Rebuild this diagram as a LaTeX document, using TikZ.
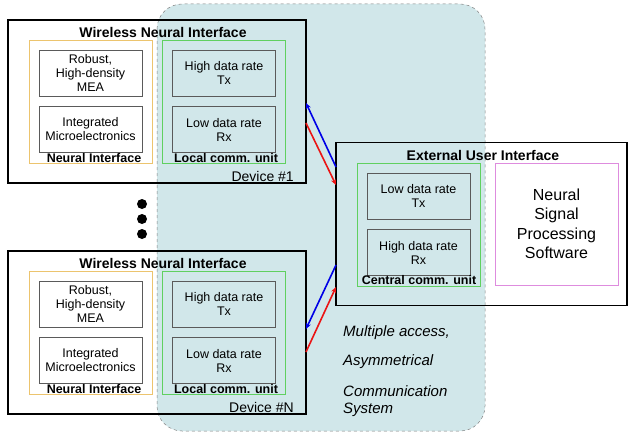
\documentclass[tikz,border=0pt]{standalone}
\usepackage{fontspec}
\setmainfont{Liberation Sans}
\usetikzlibrary{arrows.meta}
\definecolor{tealbg}{RGB}{209,231,234}
\definecolor{orangeb}{RGB}{236,196,110}
\definecolor{greenb}{RGB}{96,208,96}
\definecolor{pinkb}{RGB}{222,140,222}
\definecolor{boxgray}{RGB}{90,90,90}
\definecolor{myblue}{RGB}{0,0,230}
\definecolor{myred}{RGB}{235,20,20}
\begin{document}
\begin{tikzpicture}[x=1pt,y=-1pt,
  devbox/.style={draw=black, line width=1.8pt, minimum width=298pt, minimum height=163pt, inner sep=0pt},
  grpbox/.style={draw, line width=0.6pt, minimum width=123pt, minimum height=123pt, inner sep=0pt},
  inbox/.style={draw=boxgray, line width=0.6pt, minimum width=103pt, minimum height=46pt, inner sep=0pt, align=center, font=\fontsize{12.5}{14}\selectfont},
  ttl/.style={inner sep=0pt, font=\fontsize{14}{16}\selectfont\bfseries},
  grplbl/.style={inner sep=0pt, font=\fontsize{12.5}{14}\selectfont\bfseries},
  devlbl/.style={inner sep=0pt, anchor=east, font=\fontsize{14}{16}\selectfont},
  dotn/.style={circle, fill=black, minimum size=10pt, inner sep=0pt},
  sigarr/.style={line width=1.6pt, -{Stealth[length=6pt,width=5pt]}},
  itxt/.style={inner sep=0pt, anchor=west, font=\fontsize{15}{17}\selectfont\itshape}
]
\useasboundingbox (0,0) rectangle (628,433);
% shared channel region
\path[draw=gray, dashed, line width=0.5pt, fill=tealbg, rounded corners=25pt] (157,4) rectangle (485,431);

% ---------- Device #1 ----------
\node[devbox] (dev1) at (157,101.5) {};
\node[ttl] (t1) at (163,32) {Wireless Neural Interface};
\node[grpbox, draw=orangeb] (ni1) at (90.5,101.5) {};
\node[grpbox, draw=greenb] (lc1) at (223.5,101.5) {};
\node[inbox] (mea1) at (90.5,73) {Robust,\\High-density\\MEA};
\node[inbox] (mic1) at (90.5,129.5) {Integrated\\Microelectronics};
\node[inbox] (tx1) at (224,73) {High data rate\\Tx};
\node[inbox] (rx1) at (224,129.5) {Low data rate\\Rx};
\node[grplbl] (nil1) at (94,158) {Neural Interface};
\node[grplbl] (lcl1) at (226,158) {Local comm. unit};
\node[devlbl] (d1) at (294,176) {Device \#1};

% dots
\node[dotn] (dot1) at (142,204) {};
\node[dotn] (dot2) at (142,219) {};
\node[dotn] (dot3) at (142,234) {};

% ---------- Device #N ----------
\node[devbox] (devN) at (157,332.5) {};
\node[ttl] (tN) at (163,263) {Wireless Neural Interface};
\node[grpbox, draw=orangeb] (niN) at (90.5,332.5) {};
\node[grpbox, draw=greenb] (lcN) at (223.5,332.5) {};
\node[inbox] (meaN) at (90.5,304) {Robust,\\High-density\\MEA};
\node[inbox] (micN) at (90.5,360.5) {Integrated\\Microelectronics};
\node[inbox] (txN) at (224,304) {High data rate\\Tx};
\node[inbox] (rxN) at (224,360.5) {Low data rate\\Rx};
\node[grplbl] (nilN) at (94,389) {Neural Interface};
\node[grplbl] (lclN) at (226,389) {Local comm. unit};
\node[devlbl] (dN) at (294,407) {Device \#N};

% ---------- External User Interface ----------
\node[draw=black, line width=1.8pt, minimum width=291pt, minimum height=163pt, inner sep=0pt] (ext) at (481.5,224) {};
\node[ttl] (te) at (483,155) {External User Interface};
\node[grpbox, draw=greenb] (cc) at (418.5,224.5) {};
\node[inbox] (ctx) at (418.5,196) {Low data rate\\Tx};
\node[inbox] (crx) at (418.5,252.5) {High data rate\\Rx};
\node[grplbl] (ccl) at (419,280) {Central comm. unit};
\node[draw=pinkb, line width=0.8pt, fill=white, minimum width=123pt, minimum height=122pt, inner sep=0pt, align=center,
      font=\fontsize{16}{19.5}\selectfont] (nsp) at (556.5,224) {Neural\\Signal\\Processing\\Software};

% ---------- links ----------
\coordinate (a1s) at (336,167);
\coordinate (a1e) at (306,103);
\coordinate (b1s) at (306,123);
\coordinate (b1e) at (336,185);
\coordinate (aNs) at (336,265);
\coordinate (aNe) at (306,329);
\coordinate (bNs) at (306,352);
\coordinate (bNe) at (336,287);
\draw[sigarr, myblue] (a1s) -- (a1e);
\draw[sigarr, myred] (b1s) -- (b1e);
\draw[sigarr, myblue] (aNs) -- (aNe);
\draw[sigarr, myred] (bNs) -- (bNe);

% caption text
\node[itxt] (m1) at (343,333) {Multiple access,};
\node[itxt] (m2) at (343,362) {Asymmetrical};
\node[itxt] (m3) at (343,391) {Communication};
\node[itxt] (m4) at (343,410) {System};
\end{tikzpicture}
\end{document}
